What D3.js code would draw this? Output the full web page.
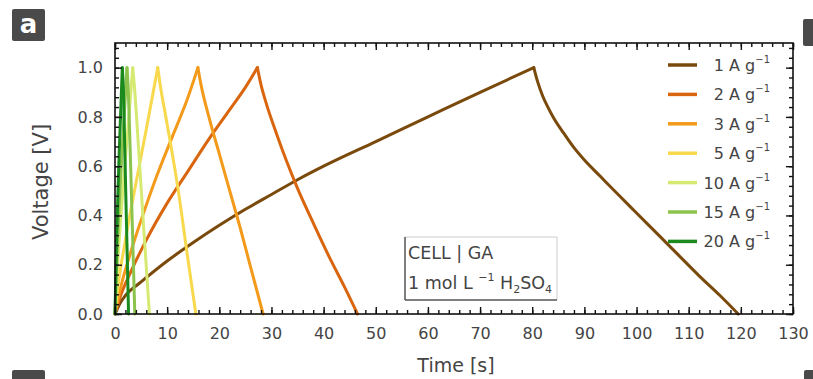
<!DOCTYPE html>
<html><head><meta charset="utf-8">
<script src="https://cdn.jsdelivr.net/npm/d3@7"></script>
<style>
body{margin:0;background:#fff;}
svg{display:block;font-family:"DejaVu Sans",sans-serif;}
</style></head>
<body><svg id="c" width="813" height="379"></svg>
<script>
// ---------- data ----------
const seriesLabels = ["1", "2", "3", "5", "10", "15", "20"];
const seriesColors = ["#7a4a0c", "#d9660f", "#f39a1b", "#f8d84c", "#d6ea72", "#8cc34c", "#1b8a1e"];

const charge1 = [[0,0],[1,0.045],[2,0.075],[5,0.13],[10,0.215],[15,0.29],[20,0.36],[25,0.425],[30,0.485],[35,0.545],[40,0.60],[50,0.70],[60,0.80],[70,0.90],[80.3,1.0]];
const discharge1 = [[80.3,1.0],[81,0.945],[82,0.885],[83,0.84],[84,0.80],[86,0.735],[88,0.675],[90,0.625],[93,0.56],[96,0.495],[100,0.41],[104,0.325],[108,0.24],[112,0.155],[116,0.075],[119.5,0]];

const charge2 = [[0,0],[1,0.07],[3,0.17],[6,0.3],[10,0.45],[14,0.58],[18,0.71],[22,0.83],[25,0.92],[27.3,1.0]];
const discharge2 = [[27.3,1.0],[28,0.93],[29,0.855],[31,0.73],[33,0.615],[35,0.51],[38,0.37],[41,0.235],[44,0.11],[46.5,0]];

const charge3 = [[0,0],[1,0.1],[3,0.25],[5,0.38],[8,0.56],[11,0.72],[14,0.88],[15.9,1.0]];
const discharge3 = [[15.9,1.0],[16.5,0.93],[18,0.8],[20,0.65],[22,0.5],[24,0.35],[26,0.19],[28.4,0]];

const charge5 = [[0,0],[0.5,0.1],[2,0.3],[4,0.53],[6,0.75],[8.2,1.0]];
const discharge5 = [[8.2,1.0],[8.6,0.94],[10,0.77],[12,0.52],[14,0.22],[15.5,0]];

const charge10 = [[0,0],[0.5,0.2],[1.5,0.5],[2.5,0.76],[3.4,1.0]];
const discharge10 = [[3.4,1.0],[3.7,0.93],[4.5,0.68],[5.5,0.35],[6.6,0]];

const charge15 = [[0,0],[0.4,0.25],[1.2,0.6],[2.3,1.0]];
const discharge15 = [[2.3,1.0],[2.5,0.93],[3.0,0.6],[3.8,0]];

const charge20 = [[0,0],[0.3,0.3],[0.8,0.65],[1.4,1.0]];
const discharge20 = [[1.4,1.0],[1.6,0.92],[2.0,0.55],[2.6,0]];

const charges = [charge1, charge2, charge3, charge5, charge10, charge15, charge20];
const discharges = [discharge1, discharge2, discharge3, discharge5, discharge10, discharge15, discharge20];

const xTicks = [0,10,20,30,40,50,60,70,80,90,100,110,120,130];
const yTicks = [0,0.2,0.4,0.6,0.8,1.0];

// ---------- drawing ----------
const svg = d3.select("#c");
const L = 115, R = 793, T = 43, B = 314;
const x = d3.scaleLinear().domain([0,130]).range([L,R]);
const y = d3.scaleLinear().domain([0,1.1]).range([B,T]);
const TXT = "#444";

// panel label boxes
function tag(px, py, w, h, txt){
  svg.append("rect").attr("x",px).attr("y",py).attr("width",w).attr("height",h)
    .attr("rx",2).attr("fill","#4a4a4a");
  if (txt) svg.append("text").attr("x",px+w/2).attr("y",py+h/2+8).attr("text-anchor","middle")
    .attr("fill","#fff").attr("font-size",26).attr("font-weight","bold").text(txt);
}
tag(12,9,33,32,"a");
tag(803,19,14,27,null);
tag(12,370,33,14,null);
tag(804,370,14,14,null);

// lines
const line = d3.line().x(d=>x(d[0])).y(d=>y(d[1])).curve(d3.curveMonotoneX);
const g = svg.append("g");
charges.forEach((c,i)=>{
  [c, discharges[i]].forEach(seg=>{
    g.append("path").attr("d",line(seg)).attr("fill","none")
      .attr("stroke",seriesColors[i]).attr("stroke-width",3)
      .attr("stroke-linecap","round").attr("stroke-linejoin","round");
  });
});

// frame
svg.append("rect").attr("x",L).attr("y",T).attr("width",R-L).attr("height",B-T)
  .attr("fill","none").attr("stroke","#111").attr("stroke-width",1.6);

const minorX = d3.range(0,131,2);
const minorY = d3.range(0,1.1001,0.04);
function styleAxis(sel){
  sel.select(".domain").remove();
  sel.selectAll("line").attr("stroke","#111").attr("stroke-width",1.4);
  sel.selectAll("text").attr("fill",TXT).attr("font-size",16).attr("font-family","DejaVu Sans");
}
// bottom
svg.append("g").attr("transform",`translate(0,${B})`)
  .call(d3.axisBottom(x).tickValues(xTicks).tickSizeInner(-7).tickSizeOuter(0).tickPadding(14).tickFormat(d3.format("d")))
  .call(styleAxis);
svg.append("g").attr("transform",`translate(0,${B})`)
  .call(d3.axisBottom(x).tickValues(minorX).tickSizeInner(-4).tickSizeOuter(0).tickFormat(""))
  .call(styleAxis);
// top
svg.append("g").attr("transform",`translate(0,${T})`)
  .call(d3.axisTop(x).tickValues(xTicks).tickSizeInner(-7).tickSizeOuter(0).tickFormat(""))
  .call(styleAxis);
svg.append("g").attr("transform",`translate(0,${T})`)
  .call(d3.axisTop(x).tickValues(minorX).tickSizeInner(-4).tickSizeOuter(0).tickFormat(""))
  .call(styleAxis);
// left
svg.append("g").attr("transform",`translate(${L},0)`)
  .call(d3.axisLeft(y).tickValues(yTicks).tickSizeInner(-7).tickSizeOuter(0).tickPadding(12).tickFormat(d3.format(".1f")))
  .call(styleAxis);
svg.append("g").attr("transform",`translate(${L},0)`)
  .call(d3.axisLeft(y).tickValues(minorY).tickSizeInner(-4).tickSizeOuter(0).tickFormat(""))
  .call(styleAxis);
// right
svg.append("g").attr("transform",`translate(${R},0)`)
  .call(d3.axisRight(y).tickValues(yTicks).tickSizeInner(-7).tickSizeOuter(0).tickFormat(""))
  .call(styleAxis);
svg.append("g").attr("transform",`translate(${R},0)`)
  .call(d3.axisRight(y).tickValues(minorY).tickSizeInner(-4).tickSizeOuter(0).tickFormat(""))
  .call(styleAxis);

// axis titles
svg.append("text").attr("transform","translate(48,182) rotate(-90)").attr("text-anchor","middle")
  .attr("fill",TXT).attr("font-size",21).text("Voltage [V]");
svg.append("text").attr("x",456).attr("y",372).attr("text-anchor","middle")
  .attr("fill",TXT).attr("font-size",19).text("Time [s]");

// legend
const lg = svg.append("g");
seriesLabels.forEach((lab,i)=>{
  const yy = 65 + i*29.4;
  lg.append("line").attr("x1",668).attr("x2",697).attr("y1",yy).attr("y2",yy)
    .attr("stroke",seriesColors[i]).attr("stroke-width",3.5);
  const t = lg.append("text").attr("x",770).attr("y",yy+6).attr("text-anchor","end")
    .attr("fill",TXT).attr("font-size",16);
  t.append("tspan").text(lab + " A g");
  t.append("tspan").attr("dy",-8).attr("font-size",10).text("\u22121");
});

// annotation box
const bx0 = 405, bx1 = 557, by0 = 237, by1 = 300;
svg.append("line").attr("x1",bx0).attr("x2",bx1).attr("y1",by0).attr("y2",by0).attr("stroke","#ccc");
svg.append("line").attr("x1",bx1).attr("x2",bx1).attr("y1",by0).attr("y2",by1).attr("stroke","#ccc");
svg.append("line").attr("x1",bx0).attr("x2",bx0).attr("y1",by0).attr("y2",by1).attr("stroke","#555").attr("stroke-width",1.5);
svg.append("line").attr("x1",bx0).attr("x2",bx1).attr("y1",by1).attr("y2",by1).attr("stroke","#555").attr("stroke-width",1.5);
svg.append("text").attr("x",408).attr("y",259).attr("fill",TXT).attr("font-size",17.5).text("CELL | GA");
const a2 = svg.append("text").attr("x",408).attr("y",289).attr("fill",TXT).attr("font-size",17.5);
a2.append("tspan").text("1 mol L ");
a2.append("tspan").attr("dy",-8).attr("font-size",11).text("\u22121");
a2.append("tspan").attr("dy",8).text(" H");
a2.append("tspan").attr("dy",4).attr("font-size",11).text("2");
a2.append("tspan").attr("dy",-4).text("SO");
a2.append("tspan").attr("dy",4).attr("font-size",11).text("4");
</script></body></html>
